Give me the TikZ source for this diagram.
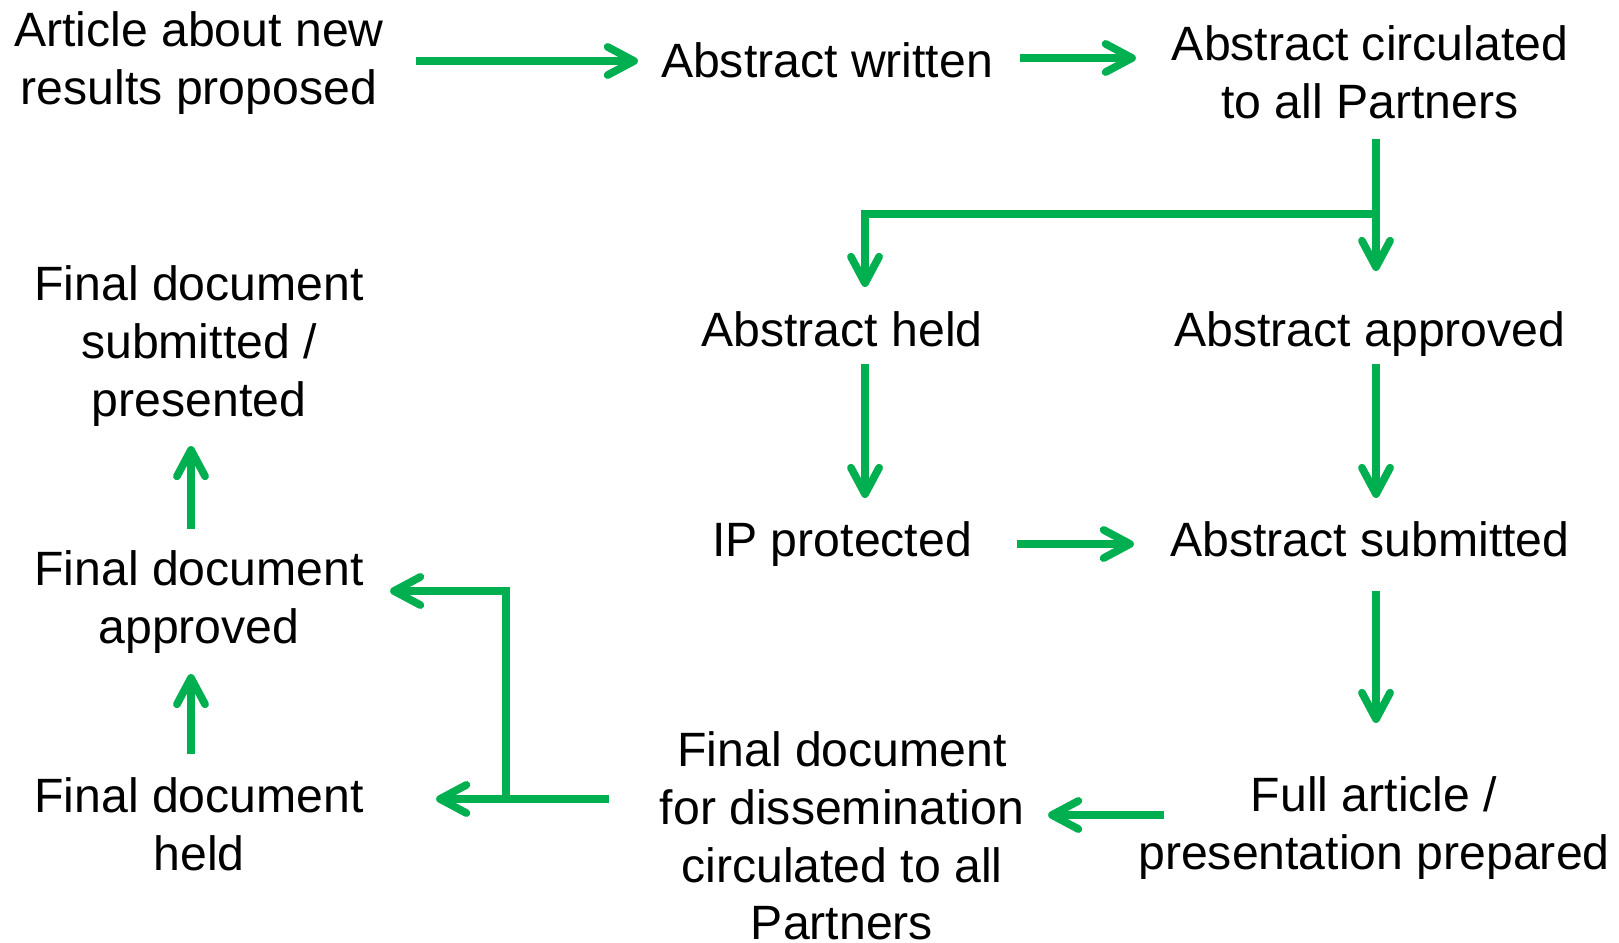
\documentclass[tikz,border=0pt]{standalone}
\usepackage{fontspec}
\setmainfont{Liberation Sans}
\usetikzlibrary{arrows.meta}
\definecolor{flowgreen}{RGB}{0,176,80}
\tikzset{stage/.style={align=center, inner sep=0pt, font=\fontsize{13.7}{16.4}\selectfont}}
\tikzset{line/.style={draw, flowgreen, line width=2.2pt, -{Straight Barb[length=7.5pt,width=8pt,round]}}}

\begin{document}
\begin{tikzpicture}[x=0.01cm,y=-0.01cm]
\useasboundingbox (0,0) rectangle (1619,943);
				\node [stage] (art)   at (199,63)  {Article about new\\results proposed};
				\node [stage] (wrt)   at (827,60)  {Abstract written};
				\node [stage] (circ)  at (1370,72) {Abstract circulated\\to all Partners};
				\node [stage] (held)  at (842,329) {Abstract held};
				\node [stage] (appr)  at (1370,334) {Abstract approved};
				\node [stage] (ipp)   at (842,544) {IP protected};
				\node [stage] (subm)  at (1370,539) {Abstract submitted};
				\node [stage] (full)  at (1374,828) {Full article /\\presentation prepared};
				\node [stage] (diss)  at (842,836) {Final document\\for dissemination\\circulated to all\\Partners};
				\node [stage] (fheld) at (199,824) {Final document\\held};
				\node [stage] (fappr) at (199,602) {Final document\\approved};
				\node [stage] (fsub)  at (199,346) {Final document\\submitted /\\presented};
				%
				\path [line, shorten <=2.17cm, shorten >=1.89cm] ([yshift=-0.01cm]wrt.center -| art.center) -- ([yshift=-0.01cm]wrt.center);
				\path [line, shorten <=1.93cm, shorten >=2.34cm] ([yshift=0.02cm]wrt.center) -- ([yshift=0.02cm]wrt.center -| circ.center);
				\path [line, shorten <=0.67cm, shorten >=0.63cm] ([xshift=0.06cm]circ.center) -- ([xshift=0.06cm]appr.center);
				\path [line, shorten >=0.42cm] ([xshift=0.06cm]circ.center) ++(0,142) -| ([xshift=0.23cm]held.center);
				\path [line, shorten <=0.35cm, shorten >=0.41cm] ([xshift=0.23cm]held.center) -- ([xshift=0.23cm]held.center |- subm.center);
				\path [line, shorten <=0.35cm, shorten >=0.41cm] ([xshift=0.06cm]subm.center |- held.center) -- ([xshift=0.06cm]subm.center);
				\path [line, shorten <=1.75cm, shorten >=2.36cm] ([yshift=-0.05cm]ipp.center |- subm.center) -- ([yshift=-0.05cm]subm.center);
				\path [line, shorten <=0.52cm, shorten >=1.01cm] ([xshift=0.06cm]subm.center) -- ([xshift=0.06cm]subm.center |- fheld.center);
				\path [line, shorten <=2.1cm, shorten >=2.06cm] ([yshift=0.09cm]full.center |- fheld.center) -- ([yshift=0.09cm]fheld.center -| diss.center);
				\path [line, shorten <=2.33cm, shorten >=2.37cm] ([yshift=0.37cm]diss.center) -- ([yshift=0.37cm]diss.center -| fheld.center);
				\path [line, shorten >=1.91cm] ([yshift=0.37cm]diss.center) ++(-336,0) |- ([yshift=0.11cm]fappr.center);
				\path [line, shorten <=0.70cm, shorten >=0.72cm] ([xshift=-0.08cm]fheld.center) -- ([xshift=-0.08cm]fappr.center);
				\path [line, shorten <=0.73cm, shorten >=1.00cm] ([xshift=-0.08cm]fappr.center) -- ([xshift=-0.08cm]fsub.center);
\end{tikzpicture}
\end{document}
